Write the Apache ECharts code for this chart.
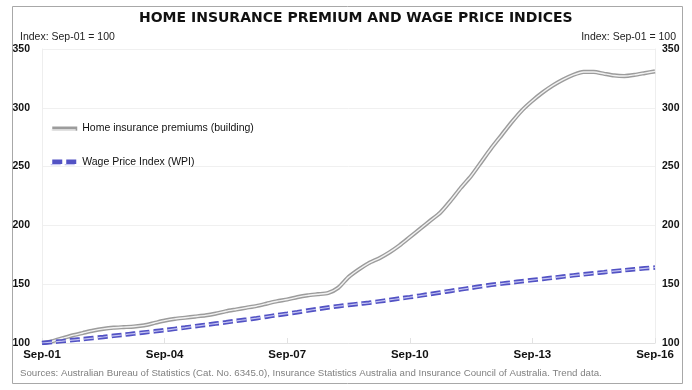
<!DOCTYPE html>
<html>
<head>
<meta charset="utf-8">
<script src="https://cdn.jsdelivr.net/npm/echarts@6/dist/echarts.min.js"></script>
<style>
  html, body { margin: 0; padding: 0; background: #ffffff; }
  #chart { width: 692px; height: 390px; }
</style>
</head>
<body>
<div id="chart"></div>
<script>
// Quarterly categories Sep-01 .. Sep-16
const categories = [
  'Sep-01','Dec-01','Mar-02','Jun-02','Sep-02','Dec-02','Mar-03','Jun-03','Sep-03','Dec-03','Mar-04','Jun-04',
  'Sep-04','Dec-04','Mar-05','Jun-05','Sep-05','Dec-05','Mar-06','Jun-06','Sep-06','Dec-06','Mar-07','Jun-07',
  'Sep-07','Dec-07','Mar-08','Jun-08','Sep-08','Dec-08','Mar-09','Jun-09','Sep-09','Dec-09','Mar-10','Jun-10',
  'Sep-10','Dec-10','Mar-11','Jun-11','Sep-11','Dec-11','Mar-12','Jun-12','Sep-12','Dec-12','Mar-13','Jun-13',
  'Sep-13','Dec-13','Mar-14','Jun-14','Sep-14','Dec-14','Mar-15','Jun-15','Sep-15','Dec-15','Mar-16','Jun-16',
  'Sep-16'
];
const homeInsurance = [
  100, 101.5, 104, 106.5, 108.5, 110.5, 112, 113, 113.5, 114, 115, 117,
  119, 120.5, 121.5, 122.5, 123.5, 125, 127, 128.5, 130, 131.5, 133.5, 135.5,
  137, 139, 140.5, 141.5, 142.5, 147, 156, 162.5, 168, 172, 177, 183,
  190, 197, 204, 211, 221, 232, 242, 254, 266, 277, 288, 298,
  306, 313, 319, 324, 328, 330.5, 330.5, 329, 327.5, 327, 328, 329.5,
  331
];
const wpi = [
  100, 100.8, 101.6, 102.5, 103.3, 104.2, 105.1, 106.1, 107.0, 108.0, 109.0, 109.9,
  110.9, 112.0, 113.1, 114.3, 115.4, 116.5, 117.6, 118.8, 119.9, 121.1, 122.4, 123.7,
  124.9, 126.2, 127.6, 128.9, 130.2, 131.3, 132.3, 133.3, 134.2, 135.4, 136.6, 137.8,
  139.0, 140.3, 141.6, 143.0, 144.3, 145.6, 146.9, 148.2, 149.5, 150.5, 151.5, 152.5,
  153.5, 154.5, 155.5, 156.5, 157.5, 158.4, 159.3, 160.2, 161.1, 161.9, 162.7, 163.5,
  164.2
];
const yTicks = { min: 100, max: 350, interval: 50 };
const seriesNames = ['Home insurance premiums (building)', 'Wage Price Index (WPI)'];
const titleText = 'HOME INSURANCE PREMIUM AND WAGE PRICE INDICES';
const unitText = 'Index: Sep-01 = 100';
const sourceText = 'Sources: Australian Bureau of Statistics (Cat. No. 6345.0), Insurance Statistics Australia and Insurance Council of Australia. Trend data.';

const FONT = '"Liberation Sans", Arial, sans-serif';
const chart = echarts.init(document.getElementById('chart'), null, { renderer: 'canvas' });

const dash = [10, 4];
const yAxisBase = {
  type: 'value',
  min: yTicks.min, max: yTicks.max, interval: yTicks.interval,
  axisLine: { show: true, lineStyle: { color: '#eeeeee', width: 1 } },
  axisTick: { show: false },
  splitLine: { show: true, lineStyle: { color: '#f0f0f0', width: 1 } },
  axisLabel: { color: '#111', fontFamily: FONT, fontWeight: 'bold', fontSize: 10.5 }
};
const legendBase = {
  orient: 'vertical', left: 45, top: 118,
  itemWidth: 25, itemHeight: 14, itemGap: 22,
  selectedMode: false,
  itemStyle: { opacity: 0, borderWidth: 0 },
  lineStyle: { width: 'inherit', type: 'inherit' }
};

chart.setOption({
  animation: false,
  backgroundColor: '#ffffff',
  title: {
    text: titleText,
    left: 139, top: 6,
    padding: [5, 0, 5, 0],
    textStyle: { fontFamily: '"DejaVu Sans", sans-serif', fontWeight: 'bold', fontSize: 14, color: '#111' }
  },
  graphic: [
    { type: 'rect', shape: { x: 12.5, y: 6.5, width: 670, height: 377 },
      style: { fill: 'none', stroke: '#a8a8a8', lineWidth: 1 }, silent: true, z: -1 },
    { type: 'text', x: 20, y: 37, style: { text: unitText, fontFamily: FONT, fontSize: 10.5, fill: '#222', verticalAlign: 'middle', align: 'left' } },
    { type: 'text', x: 676, y: 37, style: { text: unitText, fontFamily: FONT, fontSize: 10.5, fill: '#222', verticalAlign: 'middle', align: 'right' } },
    { type: 'text', x: 20, y: 373, style: { text: sourceText, fontFamily: FONT, fontSize: 9.7, fill: '#808080', verticalAlign: 'middle', align: 'left' } }
  ],
  grid: { left: 42, right: 37, top: 49, bottom: 47, containLabel: false },
  legend: [
    Object.assign({}, legendBase, {
      data: [seriesNames[0], seriesNames[1]],
      textStyle: { fontFamily: FONT, fontSize: 10.5, color: '#111' }
    }),
    Object.assign({}, legendBase, {
      data: [seriesNames[0] + ' ', seriesNames[1] + ' '],
      formatter: function () { return ''; },
      textStyle: { fontFamily: FONT, fontSize: 10.5, color: 'rgba(0,0,0,0)' }
    })
  ],
  xAxis: {
    type: 'category',
    data: categories,
    boundaryGap: false,
    axisLine: { show: true, lineStyle: { color: '#e2e2e2', width: 1 } },
    axisTick: { show: true, inside: true, length: 5, interval: 11, lineStyle: { color: '#e2e2e2' } },
    splitLine: { show: false },
    axisLabel: { interval: 11, margin: 6, color: '#111', fontFamily: FONT, fontWeight: 'bold', fontSize: 11.5 }
  },
  yAxis: [
    Object.assign({}, yAxisBase, { position: 'left', axisLabel: Object.assign({}, yAxisBase.axisLabel, { margin: 12 }) }),
    Object.assign({}, yAxisBase, { position: 'right', splitLine: { show: false }, axisLabel: Object.assign({}, yAxisBase.axisLabel, { margin: 7 }) })
  ],
  series: [
    { name: seriesNames[0], type: 'line', data: homeInsurance, symbol: 'none', smooth: 0.2,
      color: '#9c9c9c', lineStyle: { color: '#9c9c9c', width: 4.2 }, z: 2 },
    { name: seriesNames[0] + ' ', type: 'line', data: homeInsurance, symbol: 'none', smooth: 0.2,
      color: '#f2f2f2', lineStyle: { color: '#f2f2f2', width: 1.4 }, z: 3 },
    { name: seriesNames[1], type: 'line', data: wpi, symbol: 'none', smooth: 0.2,
      color: '#5252c4', lineStyle: { color: '#5252c4', width: 4.5, type: dash }, z: 4 },
    { name: seriesNames[1] + ' ', type: 'line', data: wpi, symbol: 'none', smooth: 0.2,
      color: '#c4c4f2', lineStyle: { color: '#c4c4f2', width: 1.2, type: dash }, z: 5 }
  ]
});
</script>
</body>
</html>
